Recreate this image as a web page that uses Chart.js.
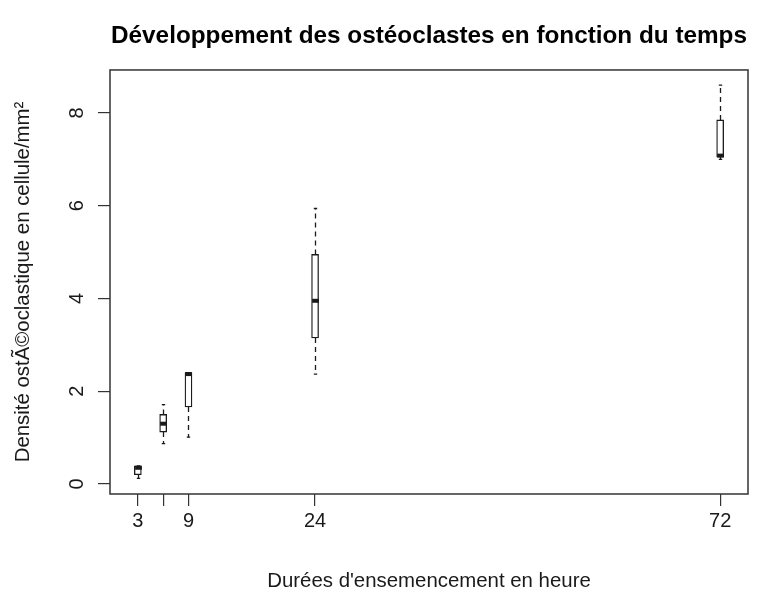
<!DOCTYPE html>
<html>
<head>
<meta charset="utf-8">
<script src="https://cdn.jsdelivr.net/npm/chart.js@4/dist/chart.umd.min.js"></script>
<style>
  html, body { margin: 0; padding: 0; background: #ffffff; }
  #wrap { width: 766px; height: 597px; }
</style>
</head>
<body>
<div id="wrap"><canvas id="c" width="766" height="597"></canvas></div>
<script>
// Seeding durations (hours) and the five-number summary of each group
const durations   = [3, 6, 9, 24, 72];
const whiskerLow  = [0.12, 0.87, 1.01, 2.37, 7.00];
const quartile1   = [0.20, 1.12, 1.66, 3.15, 7.05];
const medians     = [0.35, 1.30, 2.37, 3.95, 7.08];
const quartile3   = [0.39, 1.50, 2.40, 4.95, 7.85];
const whiskerHigh = [0.39, 1.71, 2.40, 5.94, 8.60];

const xTicks      = [3, 6, 9, 24, 72];
const xTickLabels = ['3', '', '9', '24', '72'];
const yTicks      = [0, 2, 4, 6, 8];

const FONT = "'Liberation Sans', Arial, sans-serif";
const INK = '#1a1a1a';

// whiskers (dashed), staples and thick median bars drawn on top of the box bodies
const boxExtras = {
  id: 'boxExtras',
  afterDatasetsDraw(chart) {
    const { ctx, scales: { x, y } } = chart;
    const halfBox = (x.getPixelForValue(0.4) - x.getPixelForValue(0));
    const halfCap = halfBox / 2;
    ctx.save();
    ctx.strokeStyle = INK;
    ctx.lineCap = 'butt';
    durations.forEach((d, i) => {
      const cx = Math.round(x.getPixelForValue(d)) + 0.5;
      const yLo = y.getPixelForValue(whiskerLow[i]);
      const yQ1 = y.getPixelForValue(quartile1[i]);
      const yMd = y.getPixelForValue(medians[i]);
      const yQ3 = y.getPixelForValue(quartile3[i]);
      const yHi = y.getPixelForValue(whiskerHigh[i]);

      ctx.lineWidth = 1.3;
      ctx.setLineDash([5, 4]);
      ctx.beginPath();
      ctx.moveTo(cx, yQ3); ctx.lineTo(cx, yHi);
      ctx.moveTo(cx, yQ1); ctx.lineTo(cx, yLo);
      ctx.stroke();

      ctx.setLineDash([]);
      ctx.beginPath();
      ctx.moveTo(cx - halfCap, yHi); ctx.lineTo(cx + halfCap, yHi);
      ctx.moveTo(cx - halfCap, yLo); ctx.lineTo(cx + halfCap, yLo);
      ctx.stroke();

      ctx.lineWidth = 4;
      ctx.beginPath();
      ctx.moveTo(cx - halfBox, yMd); ctx.lineTo(cx + halfBox, yMd);
      ctx.stroke();
    });
    ctx.restore();
  }
};

// frame around the plotting region
const plotFrame = {
  id: 'plotFrame',
  afterDraw(chart) {
    const { ctx, chartArea: a } = chart;
    ctx.save();
    ctx.strokeStyle = '#333333';
    ctx.lineWidth = 1.5;
    ctx.strokeRect(a.left, a.top, a.right - a.left, a.bottom - a.top);
    ctx.restore();
  }
};

new Chart(document.getElementById('c'), {
  type: 'bar',
  data: {
    datasets: [{
      data: durations.map((d, i) => ({ x: d, y: [quartile1[i], quartile3[i]] })),
      backgroundColor: '#ffffff',
      borderColor: INK,
      borderWidth: 1.3,
      borderSkipped: false,
      barThickness: 7
    }]
  },
  options: {
    responsive: false,
    animation: false,
    layout: { padding: { left: 0, right: 18, top: 0, bottom: 0 } },
    plugins: {
      legend: { display: false },
      tooltip: { enabled: false },
      title: {
        display: true,
        fullSize: false,
        text: 'Développement des ostéoclastes en fonction du temps',
        color: '#000000',
        font: { family: FONT, size: 24.3, weight: 'bold' },
        padding: { top: 22, bottom: 18.8 }
      }
    },
    scales: {
      x: {
        type: 'linear',
        min: -0.3,
        max: 75.3,
        offset: false,
        afterBuildTicks: s => { s.ticks = xTicks.map(v => ({ value: v })); },
        afterFit: s => { s.height = 103; },
        border: { display: false },
        grid: { offset: false, drawOnChartArea: false, drawTicks: true, tickLength: 12, color: '#333333', lineWidth: 1.2 },
        ticks: {
          autoSkip: false, minRotation: 0, maxRotation: 0, padding: 3,
          color: INK, font: { family: FONT, size: 20 },
          callback: (v, i) => xTickLabels[i]
        },
        title: {
          display: true,
          text: "Durées d'ensemencement en heure",
          color: INK,
          font: { family: FONT, size: 20.4 },
          padding: { top: 0, bottom: 3.4 }
        }
      },
      y: {
        type: 'linear',
        min: -0.2156,
        max: 8.927,
        afterBuildTicks: s => { s.ticks = yTicks.map(v => ({ value: v })); },
        afterFit: s => { s.width = 110; },
        border: { display: false },
        grid: { drawOnChartArea: false, drawTicks: true, tickLength: 12, color: '#333333', lineWidth: 1.2 },
        ticks: {
          minRotation: 90, maxRotation: 90, crossAlign: 'center', padding: 15,
          color: INK, font: { family: FONT, size: 20 },
          callback: v => String(v)
        },
        title: {
          display: true,
          text: 'Densité ostÃ©oclastique en cellule/mm²',
          color: INK,
          font: { family: FONT, size: 20.4 },
          padding: { top: 11.2, bottom: 0 }
        }
      }
    }
  },
  plugins: [boxExtras, plotFrame]
});
</script>
</body>
</html>
